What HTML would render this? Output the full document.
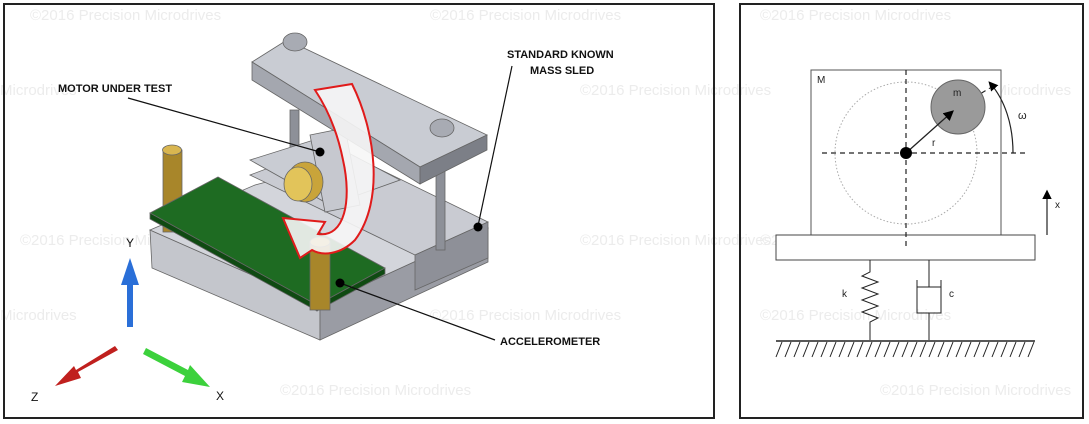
<!DOCTYPE html>
<html><head><style>
html,body{margin:0;padding:0;background:#fff;width:1089px;height:424px;overflow:hidden}
svg{display:block;font-family:"Liberation Sans",Arial,sans-serif}
</style></head><body>
<svg width="1089" height="424" viewBox="0 0 1089 424" xmlns="http://www.w3.org/2000/svg">
<defs>
<marker id="ah" markerWidth="8" markerHeight="8" refX="6" refY="4" orient="auto"><path d="M0,0 L8,4 L0,8z" fill="#000"/></marker>
</defs>
<g fill="#ececec" font-size="15">
<text x="30" y="20">©2016 Precision Microdrives</text>
<text x="430" y="20">©2016 Precision Microdrives</text>
<text x="0" y="95">Microdrives</text>
<text x="580" y="95">©2016 Precision Microdrives</text>
<text x="20" y="245">©2016 Precision Microdrives</text>
<text x="580" y="245">©2016 Precision Microdrives</text>
<text x="0" y="320">Microdrives</text>
<text x="430" y="320">©2016 Precision Microdrives</text>
<text x="280" y="395">©2016 Precision Microdrives</text>
<text x="760" y="20">©2016 Precision Microdrives</text>
<text x="880" y="95">©2016 Precision Microdrives</text>
<text x="760" y="245">©2016 Precision Microdrives</text>
<text x="760" y="320">©2016 Precision Microdrives</text>
<text x="880" y="395">©2016 Precision Microdrives</text>
</g>
<rect x="4" y="4" width="710" height="414" fill="none" stroke="#222" stroke-width="2"/>
<rect x="740" y="4" width="343" height="414" fill="none" stroke="#222" stroke-width="2"/>

<g stroke="#666" stroke-width="0.8">
<polygon points="150,230 320,305 320,340 152,268" fill="#c4c6cc"/>
<polygon points="320,305 488,228 488,262 320,340" fill="#9a9ca4"/>
<polygon points="150,230 255,185 330,165 488,228 320,305" fill="#d3d5db"/>
<polygon points="250,175 330,145 488,222 415,255" fill="#c9cbd2"/>
<polygon points="415,255 488,222 488,258 415,290" fill="#8e9098"/>
<rect x="290" y="110" width="9" height="60" fill="#8d9098"/>
<rect x="436" y="150" width="9" height="100" fill="#8d9098"/>
<polygon points="250,160 320,138 400,180 330,205" fill="#c9ccd3"/>
<polygon points="310,135 345,128 360,205 325,212" fill="#c6c8cf"/>
<polygon points="252,62 287,40 487,135 420,167" fill="#c9ccd3"/>
<polygon points="252,62 420,167 420,184 252,80" fill="#a4a7af"/>
<polygon points="420,167 487,135 487,150 420,184" fill="#7c7f87"/>
<ellipse cx="295" cy="42" rx="12" ry="9" fill="#a8abb3"/>
<ellipse cx="442" cy="128" rx="12" ry="9" fill="#a8abb3"/>
<ellipse cx="305" cy="182" rx="18" ry="20" fill="#c9a43a"/>
<ellipse cx="298" cy="184" rx="14" ry="17" fill="#e2c45a"/>
<rect x="163" y="150" width="19" height="82" fill="#a8862a"/>
<ellipse cx="172" cy="150" rx="9.5" ry="5" fill="#d9b650"/>
<polygon points="150,213 218,177 385,268 317,305" fill="#1e6b22"/>
<polygon points="150,213 317,305 317,311 150,219" fill="#0f4a12"/>
<polygon points="317,305 385,268 385,274 317,311" fill="#0f4a12"/>
<rect x="310" y="242" width="20" height="68" fill="#a8862a"/>
<ellipse cx="320" cy="242" rx="10" ry="5" fill="#d9b650"/>
</g>
<path d="M315,90 L352,84 C375,130 385,200 355,240 C340,255 322,256 312,250 L300,258 L283,218 L325,222 L318,234 C345,238 352,200 343,160 C337,130 327,108 315,90 Z" fill="#f6f6f6" fill-opacity="0.9" stroke="#e01b1b" stroke-width="2"/>

<g font-size="11" font-weight="bold" fill="#111">
<text x="58" y="92">MOTOR UNDER TEST</text>
<text x="507" y="58">STANDARD KNOWN</text>
<text x="530" y="74">MASS SLED</text>
<text x="500" y="345">ACCELEROMETER</text>
</g>
<g stroke="#111" stroke-width="1.2">
<line x1="128" y1="98" x2="320" y2="152"/>
<line x1="512" y1="66" x2="478" y2="226"/>
<line x1="340" y1="283" x2="495" y2="340"/>
</g>
<circle cx="320" cy="152" r="4.5" fill="#000"/>
<circle cx="478" cy="227" r="4.5" fill="#000"/>
<circle cx="340" cy="283" r="4.5" fill="#000"/>

<path d="M127,327 L127,285 L121,285 L130,258 L139,285 L133,285 L133,327 Z" fill="#2a6fd8"/>
<path d="M118,350 L78,372 L81,378 L55,386 L74,366 L76,370 L115,346 Z" fill="#c0201e"/>
<path d="M146,348 L188,370 L190,365 L210,387 L182,382 L185,376 L143,354 Z" fill="#3cd13c"/>
<g font-size="12" fill="#111">
<text x="126" y="247">Y</text>
<text x="31" y="401">Z</text>
<text x="216" y="400">X</text>
</g>

<g stroke="#555" stroke-width="1" fill="none">
<rect x="811" y="70" width="190" height="165" fill="#fff"/>
<circle cx="906" cy="153" r="71" stroke="#aaa" stroke-dasharray="1.5,2"/>
<rect x="776" y="235" width="259" height="25" fill="#fff" stroke="#444"/>
</g>
<text x="817" y="83" font-size="10" fill="#222">M</text>
<g stroke="#222" stroke-width="1.2" stroke-dasharray="5,4">
<line x1="906" y1="70" x2="906" y2="250"/>
<line x1="822" y1="153" x2="1025" y2="153"/>
<line x1="958" y1="107" x2="990" y2="88"/>
</g>
<circle cx="958" cy="107" r="27" fill="#9a9a9a" stroke="#666"/>
<text x="953" y="96" font-size="10" fill="#222">m</text>
<line x1="906" y1="153" x2="952" y2="112" stroke="#222" stroke-width="1.3" marker-end="url(#ah)"/>
<circle cx="906" cy="153" r="6" fill="#000"/>
<text x="932" y="146" font-size="10" fill="#222">r</text>
<path d="M1013,153 C1013,125 1005,100 990,83" fill="none" stroke="#222" stroke-width="1.2" marker-end="url(#ah)"/>
<text x="1018" y="119" font-size="11" fill="#222">ω</text>
<line x1="1047" y1="235" x2="1047" y2="192" stroke="#222" stroke-width="1.2" marker-end="url(#ah)"/>
<text x="1055" y="208" font-size="10" fill="#222">x</text>
<path d="M870,260 L870,272 L862,276 L878,282 L862,288 L878,294 L862,300 L878,306 L862,312 L878,318 L870,322 L870,340" fill="none" stroke="#222" stroke-width="1"/>
<text x="842" y="297" font-size="10" fill="#222">k</text>
<g stroke="#222" stroke-width="1" fill="none">
<line x1="929" y1="260" x2="929" y2="287"/>
<path d="M917,280 L917,313 L941,313 L941,280"/>
<line x1="917" y1="287" x2="941" y2="287"/>
<line x1="929" y1="313" x2="929" y2="340"/>
</g>
<text x="949" y="297" font-size="10" fill="#222">c</text>
<line x1="776" y1="341" x2="1035" y2="341" stroke="#222" stroke-width="1.5"/>
<g stroke="#222" stroke-width="1">
<path d="M782,342 l-6,15 M791,342 l-6,15 M800,342 l-6,15 M809,342 l-6,15 M818,342 l-6,15 M827,342 l-6,15 M836,342 l-6,15 M845,342 l-6,15 M854,342 l-6,15 M863,342 l-6,15 M872,342 l-6,15 M881,342 l-6,15 M890,342 l-6,15 M899,342 l-6,15 M908,342 l-6,15 M917,342 l-6,15 M926,342 l-6,15 M935,342 l-6,15 M944,342 l-6,15 M953,342 l-6,15 M962,342 l-6,15 M971,342 l-6,15 M980,342 l-6,15 M989,342 l-6,15 M998,342 l-6,15 M1007,342 l-6,15 M1016,342 l-6,15 M1025,342 l-6,15 M1034,342 l-6,15"/>
</g>
</svg>
</body></html>
